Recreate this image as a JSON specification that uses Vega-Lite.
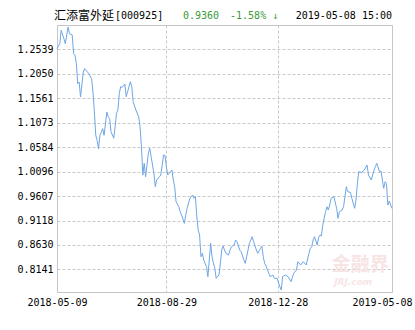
{
  "$schema": "https://vega.github.io/schema/vega-lite/v6.json",
  "width": 335,
  "height": 267,
  "autosize": {"type": "none"},
  "padding": {"left": 57, "top": 25, "right": 23, "bottom": 38},
  "background": "#ffffff",
  "config": {
    "view": {"stroke": "#c4c4c4", "strokeWidth": 1},
    "axis": {
      "domain": false,
      "ticks": false,
      "grid": true,
      "gridColor": "#c8c8c8",
      "gridDash": [3, 2],
      "gridWidth": 1,
      "labelFont": "DejaVu Sans Mono",
      "labelFontSize": 10,
      "labelColor": "#000000",
      "labelOverlap": false,
      "labelBound": false,
      "labelFlush": false,
      "title": null
    }
  },
  "resolve": {"scale": {"x": "independent", "y": "independent"}},
  "layer": [
    {
      "data": {
        "values": [
          {"i": 0, "v": 1.2555}, {"i": 2, "v": 1.2655}, {"i": 3, "v": 1.2923}, {"i": 5, "v": 1.2755},
          {"i": 6, "v": 1.2655}, {"i": 8, "v": 1.2989}, {"i": 9, "v": 1.2855}, {"i": 11, "v": 1.2830},
          {"i": 12, "v": 1.2455}, {"i": 13, "v": 1.2423}, {"i": 14, "v": 1.2255}, {"i": 15, "v": 1.1855},
          {"i": 16, "v": 1.1889}, {"i": 17, "v": 1.1589}, {"i": 19, "v": 1.2089}, {"i": 20, "v": 1.2155},
          {"i": 22, "v": 1.2089}, {"i": 23, "v": 1.2055}, {"i": 25, "v": 1.1955}, {"i": 26, "v": 1.1689},
          {"i": 27, "v": 1.1289}, {"i": 28, "v": 1.0823}, {"i": 29, "v": 1.0723}, {"i": 30, "v": 1.0555},
          {"i": 31, "v": 1.0823}, {"i": 33, "v": 1.0955}, {"i": 34, "v": 1.0823}, {"i": 36, "v": 1.1289},
          {"i": 37, "v": 1.1189}, {"i": 38, "v": 1.1163}, {"i": 39, "v": 1.0895}, {"i": 41, "v": 1.0763},
          {"i": 42, "v": 1.0995}, {"i": 43, "v": 1.1263}, {"i": 44, "v": 1.1329}, {"i": 45, "v": 1.1663},
          {"i": 46, "v": 1.1795}, {"i": 47, "v": 1.1780}, {"i": 49, "v": 1.1849}, {"i": 50, "v": 1.1595},
          {"i": 51, "v": 1.1695}, {"i": 53, "v": 1.1895}, {"i": 54, "v": 1.1795}, {"i": 55, "v": 1.1495},
          {"i": 57, "v": 1.1329}, {"i": 59, "v": 1.1195}, {"i": 60, "v": 1.0995}, {"i": 61, "v": 1.0595},
          {"i": 62, "v": 1.0029}, {"i": 63, "v": 1.0263}, {"i": 64, "v": 0.9995}, {"i": 66, "v": 1.0463},
          {"i": 67, "v": 1.0563}, {"i": 68, "v": 1.0395}, {"i": 70, "v": 1.0063}, {"i": 71, "v": 0.9795},
          {"i": 72, "v": 0.9929}, {"i": 74, "v": 0.9995}, {"i": 75, "v": 1.0029}, {"i": 77, "v": 1.0429},
          {"i": 78, "v": 1.0420}, {"i": 79, "v": 1.0195}, {"i": 80, "v": 1.0029}, {"i": 81, "v": 1.0063},
          {"i": 83, "v": 1.0129}, {"i": 84, "v": 0.9929}, {"i": 85, "v": 0.9795}, {"i": 86, "v": 0.9495},
          {"i": 88, "v": 0.9395}, {"i": 89, "v": 0.9295}, {"i": 90, "v": 0.9229}, {"i": 92, "v": 0.9063},
          {"i": 93, "v": 0.9229}, {"i": 94, "v": 0.9363}, {"i": 96, "v": 0.9563}, {"i": 97, "v": 0.9595},
          {"i": 98, "v": 0.9629}, {"i": 99, "v": 0.9563}, {"i": 100, "v": 0.9595}, {"i": 101, "v": 0.9195},
          {"i": 102, "v": 0.8929}, {"i": 103, "v": 0.8829}, {"i": 104, "v": 0.8395}, {"i": 105, "v": 0.8463},
          {"i": 106, "v": 0.8329}, {"i": 108, "v": 0.8195}, {"i": 109, "v": 0.7995}, {"i": 111, "v": 0.8663},
          {"i": 112, "v": 0.8395}, {"i": 113, "v": 0.8263}, {"i": 114, "v": 0.8163}, {"i": 115, "v": 0.7963},
          {"i": 117, "v": 0.8029}, {"i": 118, "v": 0.8263}, {"i": 119, "v": 0.8529}, {"i": 120, "v": 0.8609},
          {"i": 121, "v": 0.8529}, {"i": 122, "v": 0.8463}, {"i": 124, "v": 0.8429}, {"i": 125, "v": 0.8529},
          {"i": 126, "v": 0.8595}, {"i": 128, "v": 0.8629}, {"i": 129, "v": 0.8729}, {"i": 130, "v": 0.8695},
          {"i": 132, "v": 0.8529}, {"i": 133, "v": 0.8495}, {"i": 135, "v": 0.8329}, {"i": 136, "v": 0.8263},
          {"i": 137, "v": 0.8395}, {"i": 138, "v": 0.8529}, {"i": 139, "v": 0.8663}, {"i": 141, "v": 0.8795},
          {"i": 142, "v": 0.8695}, {"i": 144, "v": 0.8529}, {"i": 145, "v": 0.8463}, {"i": 147, "v": 0.8563},
          {"i": 148, "v": 0.8609}, {"i": 149, "v": 0.8395}, {"i": 150, "v": 0.8263}, {"i": 151, "v": 0.8209},
          {"i": 153, "v": 0.8063}, {"i": 154, "v": 0.7995}, {"i": 156, "v": 0.8029}, {"i": 157, "v": 0.7963},
          {"i": 159, "v": 0.7963}, {"i": 161, "v": 0.7795}, {"i": 162, "v": 0.7729}, {"i": 163, "v": 0.7999},
          {"i": 165, "v": 0.8029}, {"i": 167, "v": 0.7995}, {"i": 169, "v": 0.7895}, {"i": 171, "v": 0.8063},
          {"i": 173, "v": 0.8129}, {"i": 174, "v": 0.8295}, {"i": 176, "v": 0.8229}, {"i": 178, "v": 0.8295},
          {"i": 180, "v": 0.8229}, {"i": 182, "v": 0.8463}, {"i": 183, "v": 0.8563}, {"i": 184, "v": 0.8595},
          {"i": 185, "v": 0.8729}, {"i": 186, "v": 0.8795}, {"i": 188, "v": 0.8629}, {"i": 189, "v": 0.8783},
          {"i": 190, "v": 0.8829}, {"i": 191, "v": 0.8809}, {"i": 192, "v": 0.9029}, {"i": 194, "v": 0.9295},
          {"i": 195, "v": 0.9395}, {"i": 196, "v": 0.9329}, {"i": 197, "v": 0.9429}, {"i": 198, "v": 0.9563},
          {"i": 200, "v": 0.9595}, {"i": 202, "v": 0.9363}, {"i": 203, "v": 0.9163}, {"i": 204, "v": 0.9295},
          {"i": 206, "v": 0.9329}, {"i": 207, "v": 0.9395}, {"i": 209, "v": 0.9795}, {"i": 210, "v": 0.9695},
          {"i": 212, "v": 0.9680}, {"i": 213, "v": 0.9563}, {"i": 215, "v": 0.9363}, {"i": 216, "v": 0.9529},
          {"i": 217, "v": 0.9863}, {"i": 218, "v": 1.0095}, {"i": 220, "v": 1.0080}, {"i": 222, "v": 1.0129},
          {"i": 224, "v": 1.0229}, {"i": 225, "v": 1.0029}, {"i": 227, "v": 0.9929}, {"i": 229, "v": 1.0129},
          {"i": 230, "v": 1.0195}, {"i": 231, "v": 1.0263}, {"i": 233, "v": 1.0095}, {"i": 234, "v": 1.0110},
          {"i": 236, "v": 0.9763}, {"i": 237, "v": 0.9895}, {"i": 238, "v": 0.9863}, {"i": 239, "v": 0.9429},
          {"i": 240, "v": 0.9510}, {"i": 242, "v": 0.9360}
        ]
      },
      "mark": {"type": "line", "color": "#6ea6e6", "strokeWidth": 1, "interpolate": "linear"},
      "encoding": {
        "x": {
          "field": "i",
          "type": "quantitative",
          "scale": {"domain": [0, 242], "nice": false, "zero": false},
          "axis": {
            "values": [0, 79, 159.5, 242],
            "labelExpr": "datum.value == 0 ? '2018-05-09' : datum.value == 79 ? '2018-08-29' : datum.value == 242 ? '2019-05-08' : '2018-12-28'",
            "labelPadding": 5,
            "labelOverlap": false,
            "labelOffset": {"condition": {"test": "datum.value == 242", "value": -10}, "value": 0}
          }
        },
        "y": {
          "field": "v",
          "type": "quantitative",
          "scale": {"domain": [0.7689, 1.3029], "nice": false, "zero": false},
          "axis": {
            "values": [0.8141, 0.8630, 0.9118, 0.9607, 1.0096, 1.0584, 1.1073, 1.1561, 1.2050, 1.2539],
            "format": ".4f",
            "labelPadding": 4,
            "labelOverlap": false
          }
        }
      }
    },
    {
      "data": {"values": [{}]},
      "layer": [
        {
          "mark": {"type": "text", "text": "金融界", "font": "Noto Sans CJK SC", "fontWeight": "bold", "fontSize": 19, "align": "center", "baseline": "middle", "color": "#f7e4e4"},
          "encoding": {
            "x": {"datum": 219, "type": "quantitative", "scale": {"domain": [0, 242], "nice": false, "zero": false}, "axis": null},
            "y": {"datum": 0.8235, "type": "quantitative", "scale": {"domain": [0.7689, 1.3029], "nice": false, "zero": false}, "axis": null}
          }
        },
        {
          "mark": {"type": "text", "text": "JRJ.com", "font": "DejaVu Sans", "fontStyle": "italic", "fontWeight": "bold", "fontSize": 9, "align": "center", "baseline": "middle", "color": "#f7e6e6"},
          "encoding": {
            "x": {"datum": 214, "type": "quantitative", "scale": {"domain": [0, 242], "nice": false, "zero": false}, "axis": null},
            "y": {"datum": 0.7885, "type": "quantitative", "scale": {"domain": [0.7689, 1.3029], "nice": false, "zero": false}, "axis": null}
          }
        },
        {
          "mark": {"type": "text", "text": "汇添富外延", "font": "Noto Sans CJK SC", "fontSize": 12, "align": "left", "baseline": "middle", "color": "#000000"},
          "encoding": {
            "x": {"datum": -2.2, "type": "quantitative", "scale": {"domain": [0, 242], "nice": false, "zero": false}, "axis": null},
            "y": {"datum": 1.3209, "type": "quantitative", "scale": {"domain": [0.7689, 1.3029], "nice": false, "zero": false}, "axis": null}
          }
        },
        {
          "mark": {"type": "text", "text": "[000925]", "font": "DejaVu Sans Mono", "fontSize": 10, "align": "left", "baseline": "middle", "color": "#000000"},
          "encoding": {
            "x": {"datum": 41.9, "type": "quantitative", "scale": {"domain": [0, 242], "nice": false, "zero": false}, "axis": null},
            "y": {"datum": 1.3209, "type": "quantitative", "scale": {"domain": [0.7689, 1.3029], "nice": false, "zero": false}, "axis": null}
          }
        },
        {
          "mark": {"type": "text", "text": "0.9360", "font": "DejaVu Sans Mono", "fontSize": 10, "align": "left", "baseline": "middle", "color": "#3a9a3a"},
          "encoding": {
            "x": {"datum": 91, "type": "quantitative", "scale": {"domain": [0, 242], "nice": false, "zero": false}, "axis": null},
            "y": {"datum": 1.3209, "type": "quantitative", "scale": {"domain": [0.7689, 1.3029], "nice": false, "zero": false}, "axis": null}
          }
        },
        {
          "mark": {"type": "text", "text": "-1.58% ↓", "font": "DejaVu Sans Mono", "fontSize": 10, "align": "left", "baseline": "middle", "color": "#3a9a3a"},
          "encoding": {
            "x": {"datum": 125, "type": "quantitative", "scale": {"domain": [0, 242], "nice": false, "zero": false}, "axis": null},
            "y": {"datum": 1.3209, "type": "quantitative", "scale": {"domain": [0.7689, 1.3029], "nice": false, "zero": false}, "axis": null}
          }
        },
        {
          "mark": {"type": "text", "text": "2019-05-08 15:00", "font": "DejaVu Sans Mono", "fontSize": 10, "align": "right", "baseline": "middle", "color": "#000000"},
          "encoding": {
            "x": {"datum": 242, "type": "quantitative", "scale": {"domain": [0, 242], "nice": false, "zero": false}, "axis": null},
            "y": {"datum": 1.3209, "type": "quantitative", "scale": {"domain": [0.7689, 1.3029], "nice": false, "zero": false}, "axis": null}
          }
        }
      ]
    }
  ]
}
